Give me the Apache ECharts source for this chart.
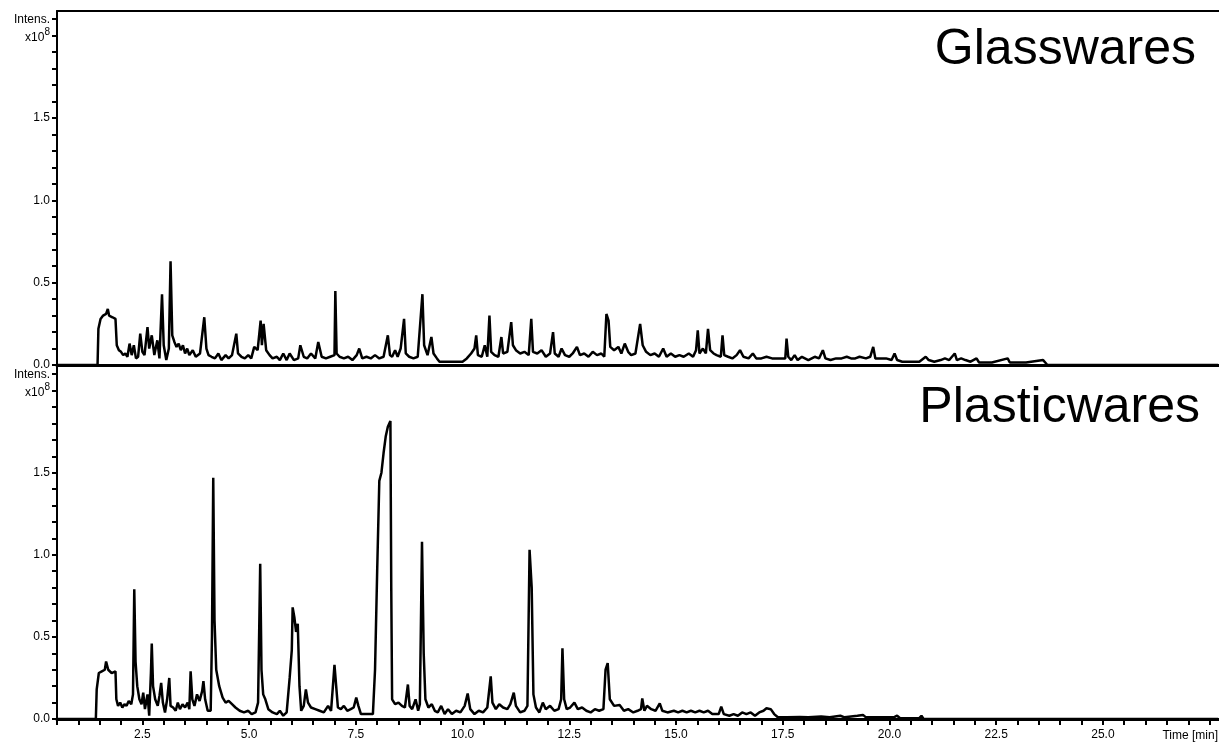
<!DOCTYPE html>
<html>
<head>
<meta charset="utf-8">
<script src="https://cdn.jsdelivr.net/npm/echarts@6/dist/echarts.min.js"></script>
<style>
  html, body { margin: 0; padding: 0; background: #fff; }
  #chart { width: 1219px; height: 746px; }
</style>
</head>
<body>
<div id="chart"></div>
<script>
// time [min] / intensity [x10^8]
var glassTime = [0.5, 1.45, 1.47, 1.52, 1.58, 1.65, 1.69, 1.72, 1.80, 1.87, 1.90, 1.95, 2.00, 2.05, 2.10, 2.15, 2.20, 2.25, 2.30, 2.35,
  2.40, 2.45, 2.50, 2.55, 2.62, 2.66, 2.72, 2.78, 2.85, 2.90, 2.96, 3.00, 3.06, 3.12, 3.16, 3.20, 3.25, 3.30, 3.35, 3.40,
  3.45, 3.50, 3.55, 3.60, 3.68, 3.75, 3.85, 3.95, 4.00, 4.05, 4.12, 4.20, 4.28, 4.35, 4.45, 4.52, 4.60, 4.70, 4.74, 4.82,
  4.90, 4.98, 5.05, 5.12, 5.20, 5.27, 5.30, 5.34, 5.40, 5.48, 5.55, 5.65, 5.72, 5.80, 5.88, 5.95, 6.05, 6.15, 6.20, 6.28,
  6.36, 6.45, 6.55, 6.62, 6.70, 6.80, 6.90, 7.00, 7.02, 7.05, 7.12, 7.22, 7.32, 7.42, 7.52, 7.58, 7.65, 7.75, 7.85, 7.95,
  8.05, 8.15, 8.25, 8.30, 8.35, 8.42, 8.48, 8.55, 8.63, 8.67, 8.75, 8.85, 8.95, 9.06, 9.10, 9.18, 9.27, 9.32, 9.40, 9.46,
  9.60, 9.80, 10.00, 10.10, 10.20, 10.28, 10.32, 10.36, 10.45, 10.52, 10.58, 10.63, 10.67, 10.75, 10.84, 10.91, 10.95, 11.05, 11.14, 11.18,
  11.25, 11.35, 11.45, 11.55, 11.61, 11.65, 11.75, 11.85, 11.95, 12.05, 12.12, 12.16, 12.25, 12.32, 12.40, 12.50, 12.58, 12.68, 12.75, 12.85,
  12.95, 13.05, 13.15, 13.25, 13.32, 13.37, 13.42, 13.46, 13.55, 13.65, 13.72, 13.80, 13.88, 13.95, 14.05, 14.16, 14.22, 14.30, 14.40, 14.50,
  14.60, 14.70, 14.78, 14.88, 14.98, 15.08, 15.18, 15.30, 15.40, 15.47, 15.51, 15.55, 15.63, 15.70, 15.75, 15.80, 15.88, 15.95, 16.05, 16.09,
  16.13, 16.22, 16.32, 16.42, 16.50, 16.58, 16.70, 16.80, 16.88, 17.00, 17.12, 17.25, 17.38, 17.50, 17.56, 17.59, 17.63, 17.70, 17.78, 17.85,
  17.95, 18.10, 18.25, 18.35, 18.44, 18.50, 18.62, 18.75, 18.88, 19.00, 19.10, 19.20, 19.30, 19.45, 19.55, 19.62, 19.67, 19.80, 19.92, 20.05,
  20.12, 20.18, 20.30, 20.50, 20.70, 20.85, 20.92, 21.05, 21.20, 21.30, 21.40, 21.53, 21.58, 21.68, 21.78, 21.90, 22.04, 22.10, 22.40, 22.77,
  22.82, 23.20, 23.60, 23.65, 23.70, 27.7]
var glassIntensity = [0, 0, 0.22, 0.28, 0.30, 0.31, 0.34, 0.30, 0.29, 0.28, 0.12, 0.09, 0.08, 0.06, 0.07, 0.05, 0.13, 0.06, 0.12, 0.04,
  0.05, 0.19, 0.08, 0.06, 0.23, 0.10, 0.18, 0.06, 0.15, 0.04, 0.43, 0.12, 0.03, 0.10, 0.63, 0.18, 0.14, 0.11, 0.13, 0.09,
  0.12, 0.07, 0.10, 0.06, 0.09, 0.05, 0.07, 0.29, 0.10, 0.06, 0.05, 0.04, 0.07, 0.03, 0.06, 0.04, 0.06, 0.19, 0.07, 0.05,
  0.04, 0.06, 0.04, 0.11, 0.09, 0.27, 0.12, 0.25, 0.09, 0.06, 0.04, 0.05, 0.03, 0.07, 0.03, 0.07, 0.03, 0.04, 0.12, 0.05,
  0.04, 0.07, 0.04, 0.14, 0.05, 0.04, 0.05, 0.06, 0.45, 0.07, 0.05, 0.04, 0.05, 0.03, 0.06, 0.10, 0.04, 0.05, 0.04, 0.06,
  0.04, 0.05, 0.18, 0.06, 0.05, 0.09, 0.05, 0.10, 0.28, 0.07, 0.05, 0.04, 0.05, 0.43, 0.12, 0.06, 0.17, 0.07, 0.04, 0.02,
  0.02, 0.02, 0.02, 0.04, 0.07, 0.10, 0.18, 0.06, 0.05, 0.12, 0.05, 0.30, 0.08, 0.06, 0.05, 0.17, 0.07, 0.08, 0.26, 0.12,
  0.09, 0.07, 0.08, 0.06, 0.28, 0.08, 0.07, 0.09, 0.05, 0.07, 0.20, 0.07, 0.05, 0.10, 0.06, 0.05, 0.07, 0.11, 0.06, 0.07,
  0.05, 0.08, 0.06, 0.07, 0.05, 0.31, 0.27, 0.11, 0.09, 0.11, 0.07, 0.13, 0.08, 0.06, 0.07, 0.25, 0.12, 0.08, 0.06, 0.07,
  0.05, 0.10, 0.05, 0.07, 0.05, 0.06, 0.05, 0.07, 0.05, 0.09, 0.21, 0.07, 0.10, 0.07, 0.22, 0.09, 0.07, 0.06, 0.05, 0.18,
  0.06, 0.05, 0.04, 0.06, 0.09, 0.05, 0.04, 0.07, 0.04, 0.04, 0.05, 0.04, 0.04, 0.04, 0.04, 0.16, 0.05, 0.03, 0.06, 0.03,
  0.05, 0.03, 0.05, 0.04, 0.09, 0.04, 0.03, 0.04, 0.04, 0.05, 0.04, 0.04, 0.05, 0.04, 0.05, 0.11, 0.04, 0.04, 0.04, 0.03,
  0.07, 0.03, 0.02, 0.02, 0.02, 0.05, 0.03, 0.02, 0.03, 0.04, 0.03, 0.07, 0.03, 0.04, 0.03, 0.02, 0.04, 0.015, 0.015, 0.04,
  0.015, 0.015, 0.03, 0.015, 0, 0]

var plasticTime = [0.5, 1.41, 1.43, 1.48, 1.55, 1.62, 1.65, 1.70, 1.78, 1.87, 1.89, 1.93, 1.98, 2.03, 2.08, 2.13, 2.18, 2.24, 2.28, 2.31,
  2.34, 2.38, 2.43, 2.48, 2.52, 2.56, 2.62, 2.66, 2.70, 2.72, 2.75, 2.80, 2.86, 2.90, 2.94, 2.98, 3.03, 3.08, 3.13, 3.16,
  3.22, 3.28, 3.33, 3.38, 3.44, 3.50, 3.56, 3.60, 3.63, 3.67, 3.72, 3.78, 3.84, 3.90, 3.93, 3.97, 4.03, 4.10, 4.13, 4.16,
  4.19, 4.23, 4.30, 4.38, 4.45, 4.52, 4.60, 4.68, 4.78, 4.88, 4.98, 5.06, 5.15, 5.21, 5.24, 5.26, 5.29, 5.33, 5.38, 5.45,
  5.55, 5.65, 5.72, 5.80, 5.88, 5.95, 6.00, 6.02, 6.06, 6.10, 6.14, 6.18, 6.22, 6.28, 6.33, 6.38, 6.45, 6.55, 6.65, 6.75,
  6.85, 6.92, 7.00, 7.04, 7.08, 7.15, 7.22, 7.30, 7.38, 7.45, 7.51, 7.56, 7.62, 7.75, 7.90, 7.95, 8.00, 8.05, 8.10, 8.15,
  8.20, 8.25, 8.31, 8.33, 8.35, 8.42, 8.50, 8.58, 8.65, 8.72, 8.76, 8.82, 8.90, 8.96, 9.00, 9.05, 9.09, 9.13, 9.20, 9.28,
  9.35, 9.42, 9.50, 9.58, 9.66, 9.75, 9.85, 9.95, 10.05, 10.12, 10.18, 10.28, 10.38, 10.48, 10.58, 10.66, 10.70, 10.78, 10.86, 10.95,
  11.05, 11.12, 11.20, 11.25, 11.35, 11.45, 11.52, 11.57, 11.62, 11.66, 11.72, 11.80, 11.88, 11.95, 12.05, 12.15, 12.25, 12.31, 12.34, 12.38,
  12.44, 12.52, 12.62, 12.70, 12.80, 12.90, 13.00, 13.10, 13.20, 13.30, 13.35, 13.40, 13.45, 13.55, 13.68, 13.78, 13.88, 14.00, 14.10, 14.18,
  14.21, 14.26, 14.32, 14.42, 14.52, 14.62, 14.68, 14.80, 14.95, 15.05, 15.15, 15.25, 15.35, 15.45, 15.55, 15.65, 15.75, 15.85, 16.00, 16.06,
  16.12, 16.25, 16.35, 16.45, 16.55, 16.65, 16.75, 16.85, 16.95, 17.05, 17.12, 17.22, 17.30, 17.38, 17.60, 17.90, 18.10, 18.40, 18.60, 18.85,
  18.95, 19.25, 19.38, 19.45, 19.70, 20.10, 20.18, 20.25, 20.70, 20.75, 20.80, 27.7]
var plasticIntensity = [0, 0, 0.18, 0.28, 0.29, 0.30, 0.35, 0.30, 0.28, 0.29, 0.12, 0.08, 0.10, 0.07, 0.09, 0.08, 0.11, 0.09, 0.15, 0.79,
  0.35, 0.20, 0.12, 0.09, 0.16, 0.06, 0.15, 0.02, 0.28, 0.46, 0.20, 0.12, 0.08, 0.14, 0.22, 0.10, 0.04, 0.12, 0.25, 0.08,
  0.07, 0.05, 0.10, 0.06, 0.09, 0.07, 0.10, 0.06, 0.29, 0.12, 0.08, 0.15, 0.11, 0.17, 0.23, 0.12, 0.05, 0.05, 0.50, 1.47,
  0.60, 0.30, 0.20, 0.13, 0.10, 0.11, 0.09, 0.07, 0.05, 0.04, 0.05, 0.03, 0.04, 0.10, 0.60, 0.945, 0.30, 0.15, 0.12, 0.06,
  0.04, 0.03, 0.05, 0.02, 0.04, 0.25, 0.42, 0.68, 0.62, 0.53, 0.58, 0.20, 0.05, 0.08, 0.18, 0.10, 0.07, 0.06, 0.05, 0.04,
  0.08, 0.05, 0.33, 0.20, 0.07, 0.06, 0.08, 0.05, 0.06, 0.07, 0.13, 0.08, 0.03, 0.03, 0.03, 0.30, 0.90, 1.45, 1.50, 1.62,
  1.72, 1.78, 1.815, 0.80, 0.12, 0.09, 0.10, 0.08, 0.07, 0.21, 0.08, 0.06, 0.12, 0.05, 0.09, 1.08, 0.40, 0.12, 0.07, 0.09,
  0.05, 0.04, 0.08, 0.03, 0.06, 0.03, 0.05, 0.04, 0.08, 0.155, 0.06, 0.03, 0.05, 0.04, 0.07, 0.26, 0.10, 0.06, 0.09, 0.07,
  0.06, 0.09, 0.16, 0.08, 0.04, 0.05, 0.08, 1.03, 0.80, 0.15, 0.07, 0.04, 0.10, 0.06, 0.08, 0.05, 0.06, 0.12, 0.43, 0.12,
  0.06, 0.07, 0.10, 0.06, 0.07, 0.05, 0.04, 0.06, 0.05, 0.06, 0.30, 0.34, 0.12, 0.08, 0.085, 0.05, 0.06, 0.04, 0.05, 0.06,
  0.125, 0.05, 0.08, 0.06, 0.05, 0.095, 0.05, 0.04, 0.05, 0.04, 0.05, 0.04, 0.05, 0.04, 0.05, 0.04, 0.05, 0.03, 0.03, 0.075,
  0.03, 0.02, 0.03, 0.02, 0.04, 0.03, 0.04, 0.02, 0.04, 0.05, 0.065, 0.06, 0.03, 0.012, 0.01, 0.012, 0.01, 0.015, 0.01, 0.02,
  0.01, 0.02, 0.025, 0.01, 0.01, 0.01, 0.02, 0.005, 0.005, 0.02, 0, 0]

var panelTitles = ['Glasswares', 'Plasticwares']
var timeMin = 0.5
var timeMax = 27.72
var intensMax = 2.15

function zip (xs, ys) {
  var out = []
  for (var i = 0; i < xs.length; i++) out.push([xs[i], ys[i]])
  return out
}

var font = '"Liberation Sans", Arial, sans-serif'

function yLabel (v) {
  var k = Math.round(v * 10)
  if (Math.abs(v * 10 - k) > 0.01) return ''
  if (k === 21) return 'Intens.'
  if (k === 20) return '{b|x10}{sup|8}'
  if (k % 5 === 0) return (k / 10).toFixed(1)
  return ''
}

function xLabel (v) {
  var k = Math.round(v * 10)
  if (Math.abs(v * 10 - k) > 0.01) return ''
  if (k % 25 === 0 && k < 275) return (k / 10).toFixed(1)
  return ''
}

function yAxis (idx) {
  return {
    type: 'value', gridIndex: idx, min: 0, max: intensMax, interval: 0.1,
    axisLine: { show: true, lineStyle: { color: '#000', width: 2 } },
    axisTick: { show: true, length: 5, lineStyle: { color: '#000', width: 2 } },
    axisLabel: {
      formatter: yLabel, color: '#000', fontSize: 12, fontFamily: font, margin: 7,
      showMaxLabel: false,
      rich: {
        b: { fontSize: 12, fontFamily: font, color: '#000', verticalAlign: 'bottom', lineHeight: 16 },
        sup: { fontSize: 10, fontFamily: font, color: '#000', verticalAlign: 'top', lineHeight: 10 }
      }
    },
    splitLine: { show: false }
  }
}

var chart = echarts.init(document.getElementById('chart'), null, { renderer: 'canvas' })

var option = {
  animation: false,
  backgroundColor: '#fff',
  grid: [
    { left: 57, right: 0, top: 11, height: 354 },
    { left: 57, right: 0, top: 366, bottom: 27 }
  ],
  xAxis: [
    {
      type: 'value', gridIndex: 0, min: timeMin, max: timeMax,
      axisLine: { show: true, lineStyle: { color: '#000', width: 3 } },
      axisTick: { show: false }, axisLabel: { show: false }, splitLine: { show: false }
    },
    {
      type: 'value', gridIndex: 1, min: timeMin, max: timeMax, interval: 0.5,
      axisLine: { show: true, lineStyle: { color: '#000', width: 3 } },
      axisTick: { show: true, length: 6, lineStyle: { color: '#000', width: 2 } },
      axisLabel: { formatter: xLabel, color: '#000', fontSize: 12, fontFamily: font, margin: 10, showMaxLabel: false },
      splitLine: { show: false }
    },
    {
      // top frame line
      type: 'value', gridIndex: 0, position: 'top', min: timeMin, max: timeMax,
      axisLine: { show: true, lineStyle: { color: '#000', width: 2 } },
      axisTick: { show: false }, axisLabel: { show: false }, splitLine: { show: false }
    }
  ],
  yAxis: [yAxis(0), yAxis(1)],
  series: [
    {
      name: panelTitles[0], type: 'line', xAxisIndex: 0, yAxisIndex: 0,
      data: zip(glassTime, glassIntensity), showSymbol: false, symbol: 'none',
      lineStyle: { color: '#000', width: 2.5 }, z: 3
    },
    {
      name: panelTitles[1], type: 'line', xAxisIndex: 1, yAxisIndex: 1,
      data: zip(plasticTime, plasticIntensity), showSymbol: false, symbol: 'none',
      lineStyle: { color: '#000', width: 2.5 }, z: 3
    }
  ],
  graphic: [
    { type: 'text', style: { text: panelTitles[0], x: 1196, y: 50, textAlign: 'right', textVerticalAlign: 'middle', font: '50px ' + font, fill: '#000' } },
    { type: 'text', style: { text: panelTitles[1], x: 1200, y: 408, textAlign: 'right', textVerticalAlign: 'middle', font: '50px ' + font, fill: '#000' } },
    { type: 'text', style: { text: 'Time [min]', x: 1218, y: 736, textAlign: 'right', textVerticalAlign: 'middle', font: '12px ' + font, fill: '#000' } }
  ]
}

chart.setOption(option)
</script>
</body>
</html>
